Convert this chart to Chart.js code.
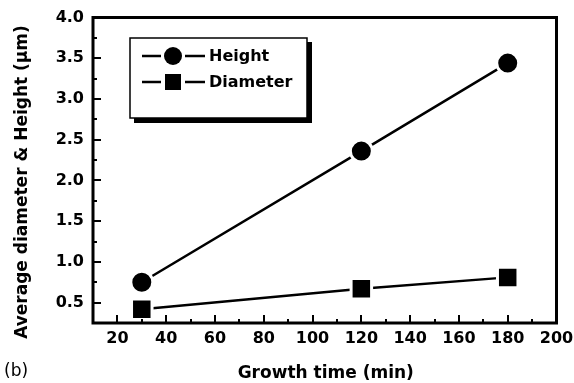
<!DOCTYPE html>
<html><head><meta charset="utf-8">
<script src="https://cdn.jsdelivr.net/npm/chart.js@4"></script>
<style>html,body{margin:0;padding:0;background:#fff;}#wrap{position:relative;width:574px;height:383px;}</style>
</head><body><div id="wrap"><canvas id="c" width="574" height="383"></canvas></div>
<script>
const growthTime = [30, 120, 180];
const heightVals = [0.75, 2.36, 3.44];
const diameterVals = [0.42, 0.67, 0.81];
const seriesNames = ['Height', 'Diameter'];
const xTicks = [20, 40, 60, 80, 100, 120, 140, 160, 180, 200];
const yTicks = [0.5, 1.0, 1.5, 2.0, 2.5, 3.0, 3.5, 4.0];
const xTitle = 'Growth time (min)';
const yTitle = 'Average diameter & Height (\u03bcm)';
const panelLabel = '(b)';

const FONT = "'DejaVu Sans', 'Liberation Sans', sans-serif";

const extras = {
  id: 'extras',
  afterDraw(chart) {
    const ctx = chart.ctx, a = chart.chartArea;
    const xs = chart.scales.x, ys = chart.scales.y;
    ctx.save();
    ctx.strokeStyle = '#000';
    ctx.lineWidth = 2;
    for (let v = 10; v <= 200; v += 10) {
      const px = Math.round(xs.getPixelForValue(v));
      const len = v % 20 === 0 ? 8 : 4;
      ctx.beginPath(); ctx.moveTo(px, a.bottom); ctx.lineTo(px, a.bottom - len); ctx.stroke();
    }
    for (let i = 1; i <= 16; i++) {
      const v = 0.25 * i;
      const py = Math.round(ys.getPixelForValue(v));
      const len = (i % 2 === 0) ? 8 : 4;
      ctx.beginPath(); ctx.moveTo(a.left, py); ctx.lineTo(a.left + len, py); ctx.stroke();
    }
    ctx.lineWidth = 3;
    ctx.strokeRect(a.left, a.top, a.right - a.left, a.bottom - a.top);
    // legend
    const bx = 130, by = 38, bw = 177, bh = 80;
    ctx.fillStyle = '#000';
    ctx.fillRect(bx + 4, by + bh, bw, 5);
    ctx.fillRect(bx + bw, by + 4, 5, bh + 1);
    ctx.fillStyle = '#fff';
    ctx.fillRect(bx, by, bw, bh);
    ctx.lineWidth = 1.5;
    ctx.strokeStyle = '#000';
    ctx.strokeRect(bx, by, bw, bh);
    const rows = [56, 82];
    ctx.lineWidth = 2.5;
    rows.forEach((ry, k) => {
      ctx.beginPath(); ctx.moveTo(142, ry); ctx.lineTo(161, ry); ctx.moveTo(185, ry); ctx.lineTo(205, ry); ctx.stroke();
      ctx.fillStyle = '#000';
      if (k === 0) { ctx.beginPath(); ctx.arc(173, ry, 9, 0, Math.PI * 2); ctx.fill(); }
      else { ctx.fillRect(165, ry - 8, 16, 16); }
      ctx.font = 'bold 16px ' + FONT;
      ctx.textBaseline = 'middle'; ctx.textAlign = 'left';
      ctx.fillText(seriesNames[k], 209, ry + 1);
    });
    // axis titles
    ctx.fillStyle = '#000';
    ctx.font = 'bold 17px ' + FONT;
    ctx.textAlign = 'center'; ctx.textBaseline = 'middle';
    ctx.fillText(xTitle, (a.left + a.right) / 2 + 1, 374);
    ctx.save();
    ctx.translate(23, 182);
    ctx.rotate(-Math.PI / 2);
    ctx.fillText(yTitle, 0, 0);
    ctx.restore();
    ctx.font = '17px ' + FONT;
    ctx.textAlign = 'left'; ctx.textBaseline = 'middle';
    ctx.fillText(panelLabel, 4, 372);
    ctx.restore();
  }
};

new Chart(document.getElementById('c'), {
  type: 'line',
  data: {
    datasets: [
      { label: seriesNames[0], data: growthTime.map((x, i) => ({x, y: heightVals[i]})),
        borderColor: '#000', borderWidth: 2.5, backgroundColor: '#000',
        pointStyle: 'circle', pointRadius: 11, pointBorderColor: '#fff', pointBorderWidth: 3, pointBackgroundColor: '#000' },
      { label: seriesNames[1], data: growthTime.map((x, i) => ({x, y: diameterVals[i]})),
        borderColor: '#000', borderWidth: 2.5, backgroundColor: '#000',
        pointStyle: 'rect', pointRadius: 14.5, pointBorderColor: '#fff', pointBorderWidth: 3, pointBackgroundColor: '#000' }
    ]
  },
  options: {
    responsive: false, animation: false,
    layout: { padding: { top: 16, right: 17, left: 0, bottom: 0 } },
    plugins: { legend: { display: false }, tooltip: { enabled: false } },
    scales: {
      x: {
        type: 'linear', min: 10, max: 200,
        afterBuildTicks: s => { s.ticks = xTicks.map(v => ({value: v})); },
        ticks: { callback: v => v, color: '#000', font: { family: FONT, size: 16, weight: 'bold' }, padding: 6, maxRotation: 0, autoSkip: false },
        grid: { display: false, drawTicks: false },
        border: { display: false },
        afterFit: s => { s.height = 60; s.paddingLeft = 0; s.paddingRight = 0; }
      },
      y: {
        type: 'linear', min: 0.25, max: 4.0,
        afterBuildTicks: s => { s.ticks = yTicks.map(v => ({value: v})); },
        ticks: { callback: v => v.toFixed(1), color: '#000', font: { family: FONT, size: 16, weight: 'bold' }, padding: 9 },
        grid: { display: false, drawTicks: false },
        border: { display: false },
        afterFit: s => { s.width = 93; s.paddingTop = 0; s.paddingBottom = 0; }
      }
    }
  },
  plugins: [extras]
});
</script></body></html>
